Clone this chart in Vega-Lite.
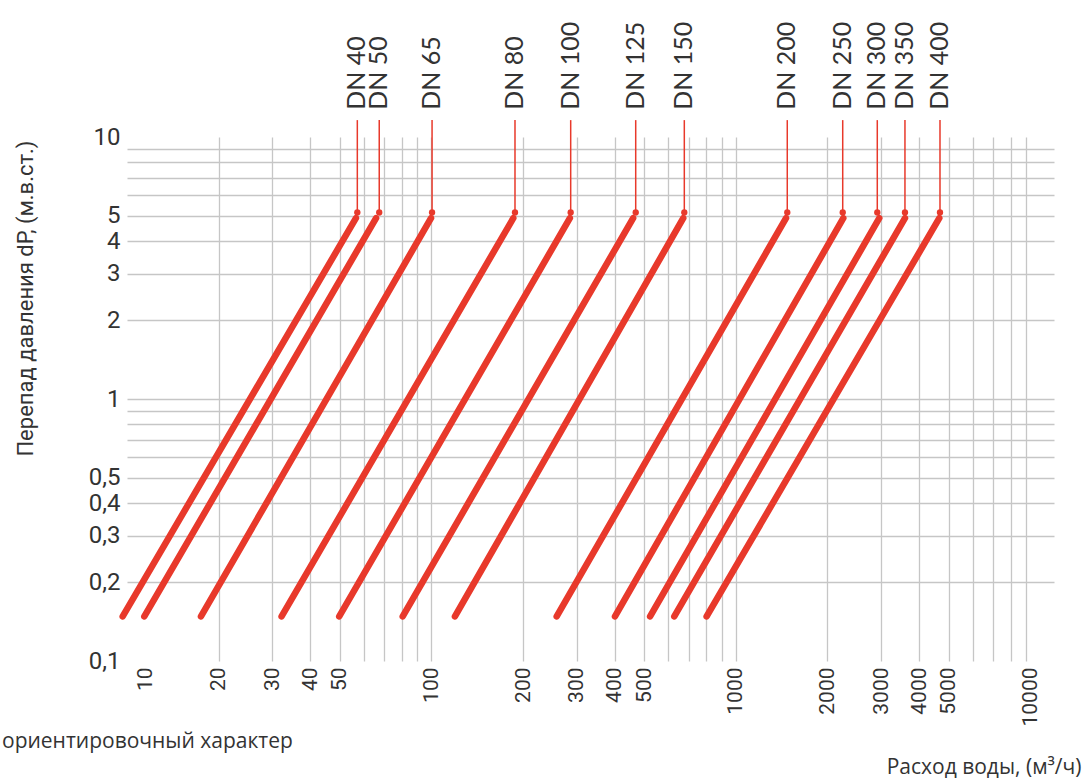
{
  "$schema": "https://vega.github.io/schema/vega-lite/v6.json",
  "width": 927,
  "height": 524,
  "autosize": "none",
  "padding": {"left": 127, "top": 137, "right": 29, "bottom": 117},
  "background": "white",
  "config": {"view": {"stroke": null}, "font": "Roboto"},
  "title": {"text": "ориентировочный характер", "orient": "bottom", "anchor": "start", "frame": "group", "dx": -125, "dy": -50, "font": "Open Sans", "fontSize": 21, "fontWeight": "normal", "color": "#333333"},
  "datasets": {
    "lines": [
      {"dn": "DN 40", "q": 9.68, "dp": 0.148}, {"dn": "DN 40", "q": 56.5, "dp": 4.9},
      {"dn": "DN 50", "q": 11.4, "dp": 0.148}, {"dn": "DN 50", "q": 65.8, "dp": 4.9},
      {"dn": "DN 65", "q": 17.5, "dp": 0.148}, {"dn": "DN 65", "q": 99.7, "dp": 4.9},
      {"dn": "DN 80", "q": 32.2, "dp": 0.148}, {"dn": "DN 80", "q": 185.8, "dp": 4.9},
      {"dn": "DN 100", "q": 49.8, "dp": 0.148}, {"dn": "DN 100", "q": 285, "dp": 4.9},
      {"dn": "DN 125", "q": 80.5, "dp": 0.148}, {"dn": "DN 125", "q": 460, "dp": 4.9},
      {"dn": "DN 150", "q": 119.5, "dp": 0.148}, {"dn": "DN 150", "q": 672, "dp": 4.9},
      {"dn": "DN 200", "q": 258, "dp": 0.148}, {"dn": "DN 200", "q": 1462, "dp": 4.9},
      {"dn": "DN 250", "q": 401, "dp": 0.148}, {"dn": "DN 250", "q": 2255, "dp": 4.9},
      {"dn": "DN 300", "q": 523, "dp": 0.148}, {"dn": "DN 300", "q": 2960, "dp": 4.9},
      {"dn": "DN 350", "q": 628, "dp": 0.148}, {"dn": "DN 350", "q": 3595, "dp": 4.9},
      {"dn": "DN 400", "q": 802, "dp": 0.148}, {"dn": "DN 400", "q": 4661, "dp": 4.9}
    ],
    "tops": [
      {"dn": "DN 40", "q": 57.1},
      {"dn": "DN 50", "q": 67.4},
      {"dn": "DN 65", "q": 100.5},
      {"dn": "DN 80", "q": 188.2},
      {"dn": "DN 100", "q": 286.8},
      {"dn": "DN 125", "q": 469},
      {"dn": "DN 150", "q": 677.4},
      {"dn": "DN 200", "q": 1476},
      {"dn": "DN 250", "q": 2245},
      {"dn": "DN 300", "q": 2916},
      {"dn": "DN 350", "q": 3595},
      {"dn": "DN 400", "q": 4686}
    ]
  },
  "layer": [
    {
      "data": {"name": "lines"},
      "mark": {"type": "line", "color": "#e8392b", "strokeWidth": 6.5, "strokeCap": "round"},
      "encoding": {
        "x": {
          "field": "q", "type": "quantitative",
          "scale": {"type": "log", "domain": [10, 11100], "nice": false},
          "axis": {
            "values": [10, 20, 30, 40, 50, 60, 70, 80, 90, 100, 200, 300, 400, 500, 600, 700, 800, 900, 1000, 2000, 3000, 4000, 5000, 6000, 7000, 8000, 9000, 10000],
            "labelExpr": "indexof([10,20,30,40,50,100,200,300,400,500,1000,2000,3000,4000,5000,10000], datum.value) >= 0 ? '' + datum.value : ''",
            "labelAngle": 270,
            "labelFont": "Roboto",
            "labelFontSize": 21,
            "labelColor": "#333333",
            "labelPadding": 6,
            "labelOffset": {"condition": [{"test": "datum.value == 10", "value": 18}, {"test": "datum.value == 10000", "value": -10}], "value": 0},
            "labelOverlap": false,
            "labelFlush": false,
            "domain": false,
            "ticks": false,
            "grid": true,
            "gridColor": "#c6c6c6",
            "gridWidth": 1.3,
            "gridOpacity": {"condition": {"test": "datum.value == 10 || datum.value == 10000", "value": 0}, "value": 1},
            "title": "Расход воды, (м³/ч)",
            "titleFont": "Open Sans",
            "titleFontSize": 21,
            "titleFontWeight": "normal",
            "titleColor": "#333333",
            "titleX": 954,
            "titleY": 112,
            "titleAlign": "right",
            "titleBaseline": "alphabetic",
            "titleAngle": 0
          }
        },
        "y": {
          "field": "dp", "type": "quantitative",
          "scale": {"type": "log", "domain": [0.1, 10], "nice": false},
          "axis": {
            "values": [0.1, 0.2, 0.3, 0.4, 0.5, 0.6, 0.7, 0.8, 0.9, 1, 2, 3, 4, 5, 6, 7, 8, 9, 10],
            "labelExpr": "indexof([0.1,0.2,0.3,0.4,0.5,1,2,3,4,5,10], datum.value) >= 0 ? replace('' + datum.value, '.', ',') : ''",
            "labelFont": "Roboto",
            "labelFontSize": 24,
            "labelColor": "#333333",
            "labelPadding": 7,
            "labelOverlap": false,
            "labelFlush": false,
            "domain": false,
            "ticks": false,
            "grid": true,
            "gridColor": "#c6c6c6",
            "gridWidth": 1.3,
            "gridOpacity": {"condition": {"test": "datum.value == 0.1 || datum.value == 10", "value": 0}, "value": 1},
            "title": "Перепад давления dP, (м.в.ст.)",
            "titleFont": "Roboto",
            "titleFontSize": 22,
            "titleFontWeight": "normal",
            "titleColor": "#333333",
            "titleX": -102,
            "titleY": 3,
            "titleAngle": 270,
            "titleAlign": "right",
            "titleBaseline": "middle"
          }
        },
        "detail": {"field": "dn"}
      }
    },
    {
      "data": {"name": "tops"},
      "mark": {"type": "rule", "color": "#e8392b", "strokeWidth": 1.5},
      "encoding": {
        "x": {"field": "q", "type": "quantitative"},
        "y": {"datum": 5.15, "type": "quantitative"},
        "y2": {"datum": 11.6}
      }
    },
    {
      "data": {"name": "tops"},
      "mark": {"type": "point", "filled": true, "color": "#e8392b", "size": 40, "opacity": 1},
      "encoding": {
        "x": {"field": "q", "type": "quantitative"},
        "y": {"datum": 5.15, "type": "quantitative"}
      }
    },
    {
      "data": {"name": "tops"},
      "mark": {"type": "text", "angle": 270, "align": "left", "baseline": "middle", "font": "Lato", "fontSize": 25, "color": "#333333"},
      "encoding": {
        "x": {"field": "q", "type": "quantitative"},
        "y": {"datum": 12.7, "type": "quantitative"},
        "text": {"field": "dn"}
      }
    }
  ]
}
